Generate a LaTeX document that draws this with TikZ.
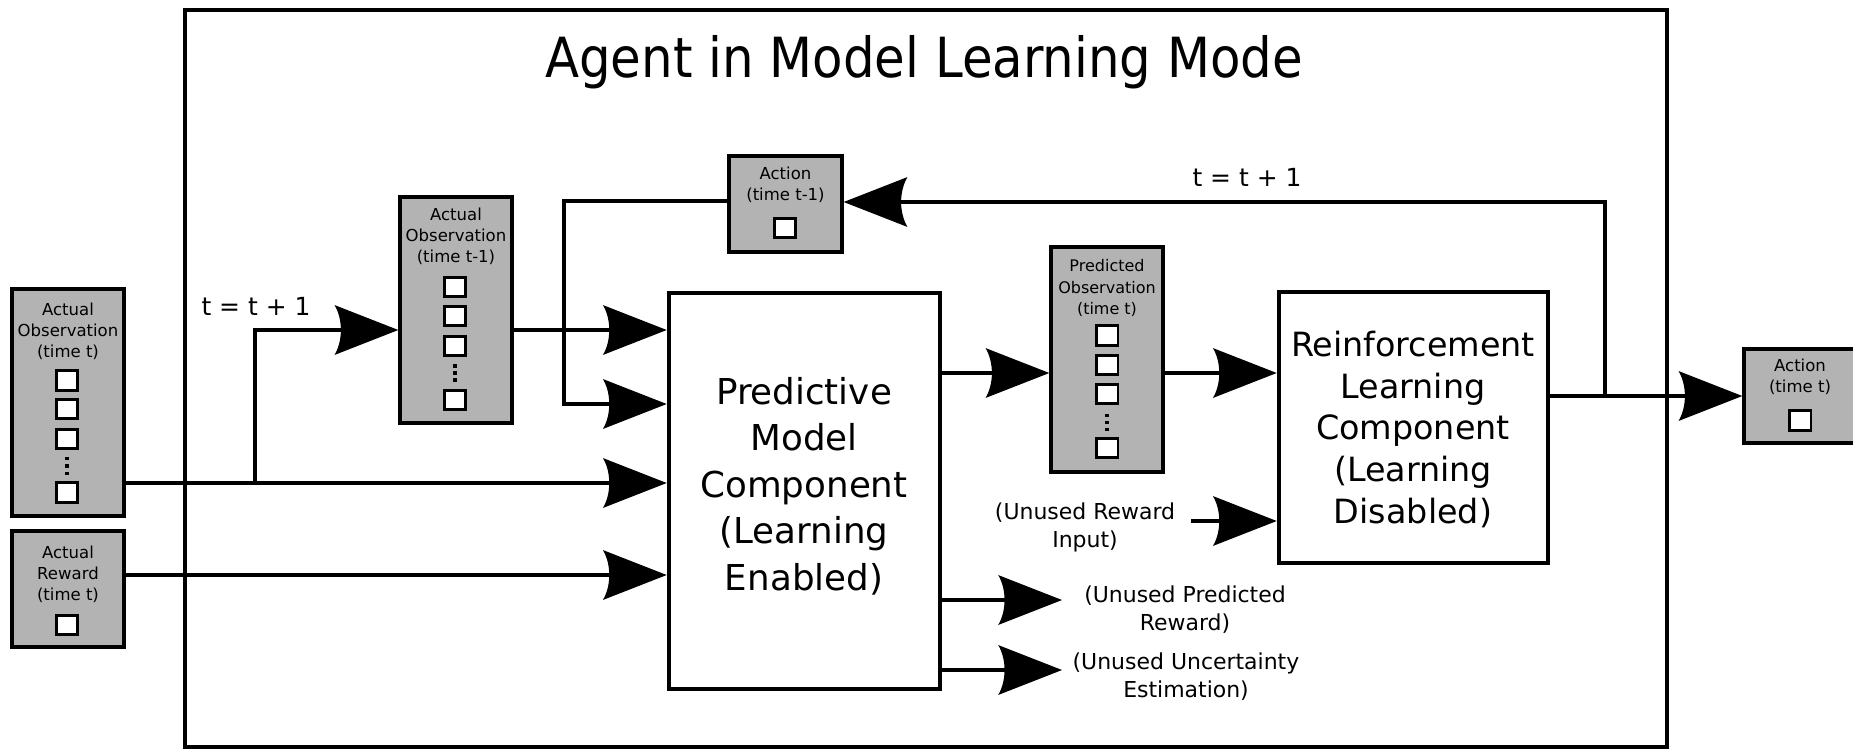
\documentclass[tikz,border=0pt]{standalone}
\usepackage{fontspec}
\setmainfont{DejaVu Sans}
\newfontfamily\titlefont[FakeStretch=0.9]{DejaVu Sans}
\usetikzlibrary{arrows.meta,fit,calc}

% large filled arrow head with a concave back
\pgfdeclarearrow{
  name = Barb,
  setup code = {
    \pgfarrowssettipend{0pt}
    \pgfarrowssetbackend{-36.3pt}
    \pgfarrowssetlineend{-32pt}
    \pgfarrowshullpoint{0pt}{0pt}
    \pgfarrowsupperhullpoint{-36.3pt}{14.2pt}
  },
  drawing code = {
    \pgfpathmoveto{\pgfqpoint{0pt}{0pt}}
    \pgfpathlineto{\pgfqpoint{-36.3pt}{14.2pt}}
    \pgfpathcurveto{\pgfqpoint{-31.5pt}{6pt}}{\pgfqpoint{-31.5pt}{-6pt}}{\pgfqpoint{-36.3pt}{-14.2pt}}
    \pgfpathclose
    \pgfusepathqfill
  }
}

\definecolor{boxgray}{RGB}{179,179,179}

\begin{document}
\begin{tikzpicture}[x=0.02cm,y=-0.02cm,
  conn/.style={line width=2.8pt,-{Barb}},
  frameline/.style={line width=2.8pt},
  gbox/.style={draw, fill=boxgray, line width=1.9pt, inner sep=0pt},
  wbox/.style={draw, fill=white, line width=2.6pt, inner sep=0pt},
  cell/.style={draw, fill=white, line width=1.7pt, minimum width=12.5pt,
    minimum height=10.9pt, inner sep=0pt},
  small/.style={font=\fontsize{9.4}{11.9}\selectfont, align=center, inner sep=0pt},
  smaller/.style={font=\fontsize{9.1}{12.1}\selectfont, align=center, inner sep=0pt},
  tlab/.style={font=\fontsize{14.2}{17}\selectfont, inner sep=0pt},
  note/.style={font=\fontsize{12.5}{15.9}\selectfont, align=center, inner sep=0pt},
]
\useasboundingbox (0,0) rectangle (1853,748);
\clip (0,0) rectangle (1853,748);

% outer agent frame and title
\draw[frameline] (185,10) rectangle (1667,747);
\node[font=\titlefont\fontsize{31.5}{37}\selectfont, anchor=base, inner sep=0pt]
  (title) at (924,77) {Agent in Model Learning Mode};

% actual observation (time t)
\node[gbox, fit={(12,289) (124,516)}] (obst) {};
\node[small] (obst-t) at (68,331) {Actual\\Observation\\(time t)};
\foreach \yy [count=\i] in {380.5,409,439,492.5}
  \node[cell] (obst-c\i) at (67,\yy) {};
\foreach \yy in {458.5,466,473.5}
  \fill (65.2,\yy-1.8) rectangle ++(3.6,3.6);

% actual reward (time t)
\node[gbox, fit={(12,531) (124,647)}] (rewt) {};
\node[small] (rewt-t) at (68,574) {Actual\\Reward\\(time t)};
\node[cell] (rewt-c) at (67,625) {};

% actual observation (time t-1)
\node[gbox, fit={(400,197) (512,423)}] (obsp) {};
\node[small] (obsp-t) at (456,236) {Actual\\Observation\\(time t-1)};
\foreach \yy [count=\i] in {287,316,346,400}
  \node[cell] (obsp-c\i) at (455,\yy) {};
\foreach \yy in {366,373,380}
  \fill (453.2,\yy-1.8) rectangle ++(3.6,3.6);

% action (time t-1)
\node[gbox, fit={(729,156) (842,252)}] (actp) {};
\node[small] (actp-t) at (785.5,185) {Action\\(time t-1)};
\node[cell] (actp-c) at (785,228) {};

% predictive model
\node[wbox, fit={(669,293) (940,689)}] (pm) {};
\node[font=\fontsize{20.3}{26.5}\selectfont, align=center, inner sep=0pt]
  (pm-t) at (804,486) {Predictive\\Model\\Component\\(Learning\\Enabled)};

% predicted observation (time t)
\node[gbox, fit={(1051,247) (1163,472)}] (pobs) {};
\node[smaller] (pobs-t) at (1107,288) {Predicted\\Observation\\(time t)};
\foreach \yy [count=\i] in {335.5,364.7,394,448}
  \node[cell] (pobs-c\i) at (1107,\yy) {};
\foreach \yy in {415.5,422.5,429.5}
  \fill (1105.2,\yy-1.8) rectangle ++(3.6,3.6);

% reinforcement learning component
\node[wbox, fit={(1279,292) (1548,563)}] (rl) {};
\node[font=\fontsize{19}{23.8}\selectfont, align=center, inner sep=0pt]
  (rl-t) at (1413,429.5) {Reinforcement\\Learning\\Component\\(Learning\\Disabled)};

% action (time t)
\node[gbox, fit={(1744,349) (1860,443)}] (actt) {};
\node[small] (actt-t) at (1800,377) {Action\\(time t)};
\node[cell] (actt-c) at (1800,420.5) {};

% labels
\node[tlab] (tinc1) at (256,306) {t = t + 1};
\node[tlab] (tinc2) at (1247,177) {t = t + 1};
\node[note] (unrew) at (1085,527) {(Unused Reward\\Input)};
\node[note] (unpred) at (1185,610) {(Unused Predicted\\Reward)};
\node[note] (ununc) at (1186,677) {(Unused Uncertainty\\Estimation)};

% connector levels
\coordinate (yA) at (0,483);
\coordinate (yB) at (0,330);
\coordinate (yC) at (0,201);
\coordinate (yD) at (0,404);
\coordinate (yE) at (0,575);
\coordinate (yF) at (0,373);
\coordinate (yG) at (0,396);
\coordinate (yH) at (0,202);
\coordinate (xV) at (564,0);
\coordinate (br1) at (255,483);
\coordinate (fb) at (1605,396);
\coordinate (urs) at (1191,521);
\coordinate (upEnd) at (1062,600);
\coordinate (ueEnd) at (1062,670);

% connectors
\draw[conn] (obst.east |- yA) -- (pm.west |- yA);
\draw[conn] (br1) |- (obsp.west |- yB);
\draw[conn] (obsp.east |- yB) -- (pm.west |- yB);
\draw[conn] (actp.west |- yC) -| (xV |- yD) -- (pm.west |- yD);
\draw[conn] (rewt.east |- yE) -- (pm.west |- yE);
\draw[conn] (pm.east |- yF) -- (pobs.west |- yF);
\draw[conn] (pobs.east |- yF) -- (rl.west |- yF);
\draw[conn] (urs) -- (rl.west |- urs);
\draw[conn] (rl.east |- yG) -- (actt.west |- yG);
\draw[conn] (fb) |- (actp.east |- yH);
\draw[conn] (pm.east |- upEnd) -- (upEnd);
\draw[conn] (pm.east |- ueEnd) -- (ueEnd);
\end{tikzpicture}
\end{document}
